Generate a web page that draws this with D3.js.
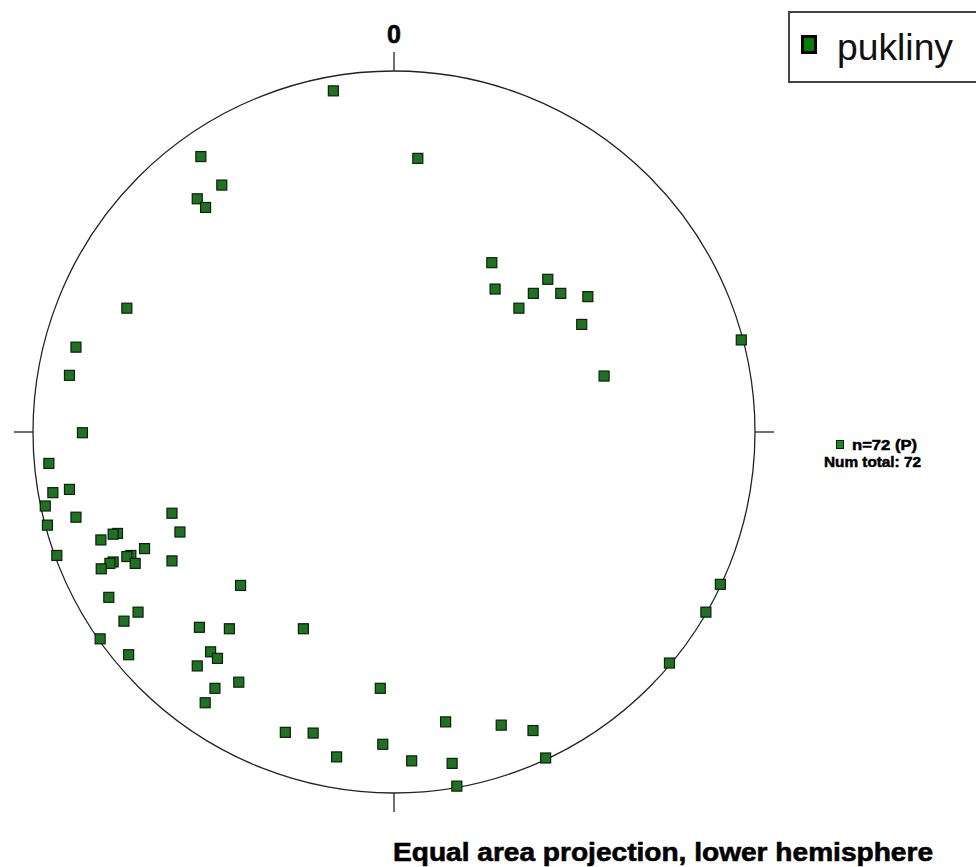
<!DOCTYPE html>
<html>
<head>
<meta charset="utf-8">
<script src="https://cdn.jsdelivr.net/npm/d3@7"></script>
<style>
  body { margin: 0; background: #fff; }
  svg { display: block; }
</style>
</head>
<body>
<svg id="net" width="976" height="867"></svg>
<script>
// poles, equal-area projected coordinates on the unit net (east, north)
const poleEast = [
  -0.168, 0.066, -0.535, -0.477, -0.545, -0.522, -0.740,
  0.271, 0.280, 0.426, 0.386, 0.462, 0.537, 0.346, 0.520, 0.582, 0.962,
  -0.881, -0.899, -0.863, -0.956, -0.899, -0.945, -0.966, -0.881, -0.960, -0.934,
  -0.615, -0.593, -0.766, -0.778, -0.812, -0.691, -0.729, -0.740, -0.778, -0.787, -0.811, -0.717, -0.615,
  -0.425, -0.790, -0.709, -0.748, -0.814, -0.735,
  -0.539, -0.456, -0.251, -0.508, -0.489, -0.545, -0.430, -0.496, -0.523,
  -0.038, -0.301, -0.224, -0.159, -0.031, 0.049,
  0.143, 0.297, 0.385, 0.161, 0.174, 0.420,
  0.763, 0.864, 0.904
];
const poleNorth = [
  0.945, 0.758, 0.763, 0.684, 0.646, 0.622, 0.343,
  0.469, 0.396, 0.423, 0.384, 0.384, 0.375, 0.343, 0.298, 0.155, 0.255,
  0.235, 0.157, -0.002, -0.087, -0.159, -0.168, -0.205, -0.236, -0.258, -0.342,
  -0.225, -0.277, -0.281, -0.283, -0.299, -0.323, -0.342, -0.345, -0.360, -0.364, -0.379, -0.364, -0.357,
  -0.425, -0.458, -0.499, -0.524, -0.573, -0.617,
  -0.541, -0.545, -0.545, -0.609, -0.627, -0.648, -0.693, -0.710, -0.750,
  -0.710, -0.832, -0.834, -0.900, -0.865, -0.911,
  -0.803, -0.812, -0.827, -0.918, -0.981, -0.903,
  -0.640, -0.499, -0.422
];
const seriesName = "pukliny";
const statLines = ["n=72 (P)", "Num total: 72"];
const directionLabels = [{ angle: 0, label: "0" }, { angle: 90, label: "" }, { angle: 180, label: "" }, { angle: 270, label: "" }];
const title = "Equal area projection, lower hemisphere";

const cx = 394, cy = 432, R = 361;
const svg = d3.select("#net");

const x = d3.scaleLinear().domain([-1, 1]).range([cx - R, cx + R]);
const y = d3.scaleLinear().domain([-1, 1]).range([cy + R, cy - R]);

// primitive circle
svg.append("circle")
  .attr("cx", x(0)).attr("cy", y(0)).attr("r", x(1) - x(0))
  .attr("fill", "none").attr("stroke", "#222").attr("stroke-width", 1.3);

// direction ticks
const tickLen = 19;
directionLabels.forEach(d => {
  const a = d.angle * Math.PI / 180;
  const sx = Math.sin(a), sy = Math.cos(a);
  svg.append("line")
    .attr("x1", x(sx)).attr("y1", y(sy))
    .attr("x2", x(sx) + sx * tickLen).attr("y2", y(sy) - sy * tickLen)
    .attr("stroke", "#222").attr("stroke-width", 1.3);
  if (d.label) {
    svg.append("text")
      .attr("x", x(sx)).attr("y", y(sy) - 28)
      .attr("text-anchor", "middle")
      .attr("font-family", "Liberation Sans, Arial, sans-serif")
      .attr("font-weight", "bold").attr("font-size", 25)
      .attr("stroke", "#000").attr("stroke-width", 0.6)
      .text(d.label);
  }
});

// poles
const poles = poleEast.map((e, i) => ({ e: e, n: poleNorth[i] }));
svg.selectAll("rect.pole")
  .data(poles)
  .enter()
  .append("rect")
  .attr("class", "pole")
  .attr("x", d => x(d.e) - 5)
  .attr("y", d => y(d.n) - 5)
  .attr("width", 10).attr("height", 10)
  .attr("fill", "#1e7222").attr("stroke", "#0d1f0d").attr("stroke-width", 1.2);

// legend box
const lg = svg.append("g");
lg.append("rect")
  .attr("x", 789).attr("y", 12).attr("width", 200).attr("height", 70)
  .attr("fill", "#fff").attr("stroke", "#444").attr("stroke-width", 2);
lg.append("rect")
  .attr("x", 802.5).attr("y", 36.5).attr("width", 13).attr("height", 16)
  .attr("fill", "#008000").attr("stroke", "#000").attr("stroke-width", 3);
lg.append("text")
  .attr("x", 837).attr("y", 60)
  .attr("font-family", "Liberation Sans, Arial, sans-serif")
  .attr("font-size", 36).attr("fill", "#111")
  .attr("textLength", 116).attr("lengthAdjust", "spacingAndGlyphs")
  .text(seriesName);

// stats
svg.append("rect")
  .attr("x", 836.5).attr("y", 440.5).attr("width", 7).attr("height", 8)
  .attr("fill", "#1e8a22").attr("stroke", "#0d1f0d").attr("stroke-width", 1);
svg.append("text")
  .attr("x", 852).attr("y", 450)
  .attr("font-family", "Liberation Sans, Arial, sans-serif")
  .attr("font-weight", "bold").attr("font-size", 14)
  .attr("stroke", "#000").attr("stroke-width", 0.5)
  .attr("textLength", 65).attr("lengthAdjust", "spacingAndGlyphs")
  .text(statLines[0]);
svg.append("text")
  .attr("x", 824).attr("y", 467)
  .attr("font-family", "Liberation Sans, Arial, sans-serif")
  .attr("font-weight", "bold").attr("font-size", 14)
  .attr("stroke", "#000").attr("stroke-width", 0.5)
  .attr("textLength", 97).attr("lengthAdjust", "spacingAndGlyphs")
  .text(statLines[1]);

// title
svg.append("text")
  .attr("x", 393).attr("y", 861)
  .attr("font-family", "Liberation Sans, Arial, sans-serif")
  .attr("font-weight", "bold").attr("font-size", 25)
  .attr("stroke", "#000").attr("stroke-width", 0.6)
  .attr("textLength", 540).attr("lengthAdjust", "spacingAndGlyphs")
  .text(title);
</script>
</body>
</html>
